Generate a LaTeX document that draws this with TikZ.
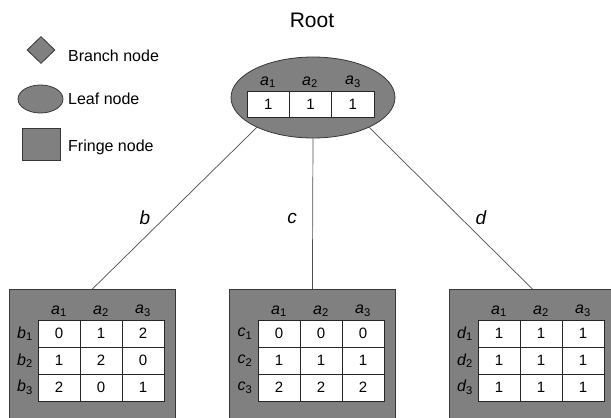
\documentclass[tikz,border=0pt]{standalone}
\usepackage{fontspec}
\setmainfont{Liberation Sans}
\usetikzlibrary{shapes.geometric}
\definecolor{fillgray}{RGB}{128,128,128}
\definecolor{edgegray}{RGB}{55,55,55}
\newcommand\lbl[2]{{\itshape #1}\textsubscript{\upshape #2}}
\newcommand\fringebox[2]{%
  \node[shapefill, minimum width=166pt, minimum height=140pt, anchor=north west, inner sep=0pt] (#1) at (9+#2,289) {};
  \foreach \c in {1,2,3} \node[hdr] (#1h\c) at (17+#2+42*\c, 311) {\lbl{a}{\c}};
}
\newcommand\fringerow[7]{%
  \node[hdr] (#1r#4) at (25+#2, 306.5+27*#4) {\lbl{#3}{#4}};
  \node[cell] (#1c#4a) at (59+#2, 306.5+27*#4) {#5};
  \node[cell] (#1c#4b) at (101+#2, 306.5+27*#4) {#6};
  \node[cell] (#1c#4c) at (143+#2, 306.5+27*#4) {#7};
}
\begin{document}
\begin{tikzpicture}[x=1pt,y=-1pt,
  shapefill/.style={fill=fillgray,draw=edgegray,line width=0.8pt},
  cell/.style={draw=black!85,fill=white,minimum width=42pt,minimum height=27pt,inner sep=0pt,font=\fontsize{15}{15}\selectfont,line width=0.7pt},
  hdr/.style={font=\fontsize{16}{16}\selectfont,inner sep=0pt},
  legendtext/.style={anchor=west,font=\fontsize{16}{16}\selectfont,inner sep=0pt},
  edge/.style={draw=black!70,line width=0.7pt},
  elabel/.style={font=\fontsize{19}{19}\selectfont\itshape,inner sep=0pt}
]
\useasboundingbox (0,0) rectangle (611,418);
\clip (0,0) rectangle (611,418);

% title
\node[font=\fontsize{21}{21}\selectfont,inner sep=0pt] (title) at (312,20) {Root};

% legend
\node[diamond, shapefill, minimum width=28pt, minimum height=27pt, inner sep=0pt] (legb) at (41,50) {};
\node[legendtext] (legbt) at (68,56) {Branch node};
\node[ellipse, shapefill, minimum width=45pt, minimum height=28pt, inner sep=0pt] (legl) at (40.5,99) {};
\node[legendtext] (leglt) at (68,99) {Leaf node};
\node[rectangle, shapefill, minimum width=38pt, minimum height=32pt, inner sep=0pt] (legf) at (41,144) {};
\node[legendtext] (legft) at (68,147) {Fringe node};

% root
\node[ellipse, shapefill, minimum width=164pt, minimum height=81pt, inner sep=0pt] (root) at (313,97.5) {};
\node[hdr] (rh1) at (268,82) {\lbl{a}{1}};
\node[hdr] (rh2) at (310,82) {\lbl{a}{2}};
\node[hdr] (rh3) at (353,82) {\lbl{a}{3}};
\node[cell, minimum width=42.3pt, minimum height=26pt] (rc1) at (268.2,104) {1};
\node[cell, minimum width=42.3pt, minimum height=26pt] (rc2) at (310.5,104) {1};
\node[cell, minimum width=42.3pt, minimum height=26pt] (rc3) at (352.8,104) {1};

% fringe boxes
\fringebox{fb}{0}
\fringerow{fb}{0}{b}{1}{0}{1}{2}
\fringerow{fb}{0}{b}{2}{1}{2}{0}
\fringerow{fb}{0}{b}{3}{2}{0}{1}

\fringebox{fc}{220}
\fringerow{fc}{220}{c}{1}{0}{0}{0}
\fringerow{fc}{220}{c}{2}{1}{1}{1}
\fringerow{fc}{220}{c}{3}{2}{2}{2}

\fringebox{fd}{440}
\fringerow{fd}{440}{d}{1}{1}{1}{1}
\fringerow{fd}{440}{d}{2}{1}{1}{1}
\fringerow{fd}{440}{d}{3}{1}{1}{1}

% edges
\draw[edge] (root.208) -- (fb.north);
\draw[edge] (root.south) -- (fc.north);
\draw[edge] (root.332) -- (fd.north);

\node[elabel] (lb) at (145,218) {b};
\node[elabel] (lc) at (292,218) {c};
\node[elabel] (ld) at (481,218) {d};
\end{tikzpicture}
\end{document}
